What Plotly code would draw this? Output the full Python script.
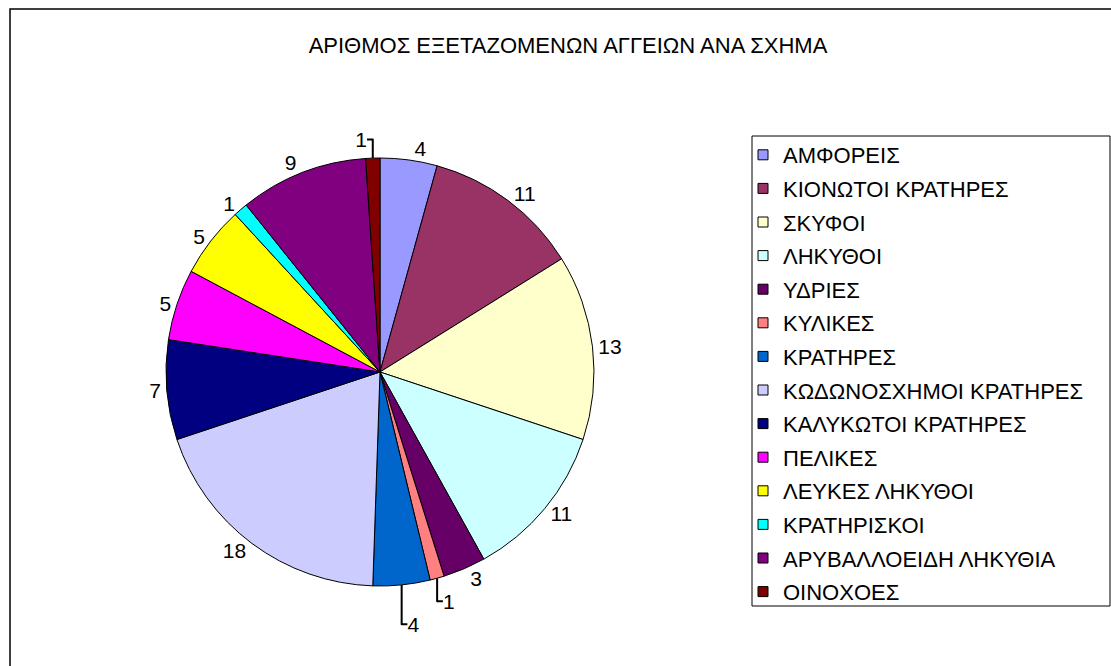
import plotly.graph_objects as go

title_text = "ΑΡΙΘΜΟΣ ΕΞΕΤΑΖΟΜΕΝΩΝ ΑΓΓΕΙΩΝ ΑΝΑ ΣΧΗΜΑ"
categories = [
    "ΑΜΦΟΡΕΙΣ", "ΚΙΟΝΩΤΟΙ ΚΡΑΤΗΡΕΣ", "ΣΚΥΦΟΙ", "ΛΗΚΥΘΟΙ", "ΥΔΡΙΕΣ",
    "ΚΥΛΙΚΕΣ", "ΚΡΑΤΗΡΕΣ", "ΚΩΔΩΝΟΣΧΗΜΟΙ ΚΡΑΤΗΡΕΣ", "ΚΑΛΥΚΩΤΟΙ ΚΡΑΤΗΡΕΣ",
    "ΠΕΛΙΚΕΣ", "ΛΕΥΚΕΣ ΛΗΚΥΘΟΙ", "ΚΡΑΤΗΡΙΣΚΟΙ", "ΑΡΥΒΑΛΛΟΕΙΔΗ ΛΗΚΥΘΙΑ", "ΟΙΝΟΧΟΕΣ",
]
values = [4, 11, 13, 11, 3, 1, 4, 18, 7, 5, 5, 1, 9, 1]
colors = [
    "#9999FF", "#993366", "#FFFFCC", "#CCFFFF", "#660066", "#FF8080", "#0066CC",
    "#CCCCFF", "#000080", "#FF00FF", "#FFFF00", "#00FFFF", "#800080", "#800000",
]

W, H = 1111, 666
FONT = "Liberation Sans, Arial, sans-serif"
FS = 22

fig = go.Figure()

# pie geometry (pixels)
cx, cy, r = 380, 372, 214
fig.add_trace(go.Pie(
    labels=categories, values=values, sort=False, direction="clockwise", rotation=0,
    marker=dict(colors=colors, line=dict(color="black", width=1)),
    textinfo="value", textposition="outside",
    outsidetextfont=dict(family=FONT, size=21, color="black"),
    showlegend=False, hoverinfo="label+value",
    domain=dict(x=[(cx - r) / W, (cx + r) / W], y=[(H - cy - r) / H, (H - cy + r) / H]),
))

# legend entries
for i, (c, col) in enumerate(zip(categories, colors)):
    fig.add_trace(go.Scatter(
        x=[None], y=[None], mode="markers", name=c, legendgroup=f"g{i}",
        marker=dict(symbol="square", size=10, color=col, line=dict(color="black", width=1)),
        showlegend=True, hoverinfo="skip",
    ))

fig.update_layout(
    width=W, height=H, margin=dict(l=0, r=0, t=0, b=0),
    paper_bgcolor="white", plot_bgcolor="white",
    font=dict(family=FONT, size=FS, color="black"),
    title=dict(text=title_text, x=568 / W, xanchor="center", y=1 - 45 / H, yanchor="middle",
               font=dict(family=FONT, size=FS, color="black")),
    xaxis=dict(visible=False), yaxis=dict(visible=False),
    legend=dict(x=753 / W, xanchor="left", y=1 - 134 / H, yanchor="top",
                bgcolor="rgba(0,0,0,0)", borderwidth=0,
                tracegroupgap=2, indentation=-10,
                font=dict(family=FONT, size=FS, color="black")),
    shapes=[
        dict(type="rect", xref="paper", yref="paper",
             x0=10 / W, x1=1.01, y0=-0.01, y1=1 - 9 / H,
             line=dict(color="black", width=1.5), fillcolor="rgba(0,0,0,0)", layer="below"),
        dict(type="rect", xref="paper", yref="paper",
             x0=752 / W, x1=1110 / W, y0=1 - 606 / H, y1=1 - 136 / H,
             line=dict(color="black", width=1), fillcolor="white", layer="below"),
    ],
)

fig.write_html("out.html")
